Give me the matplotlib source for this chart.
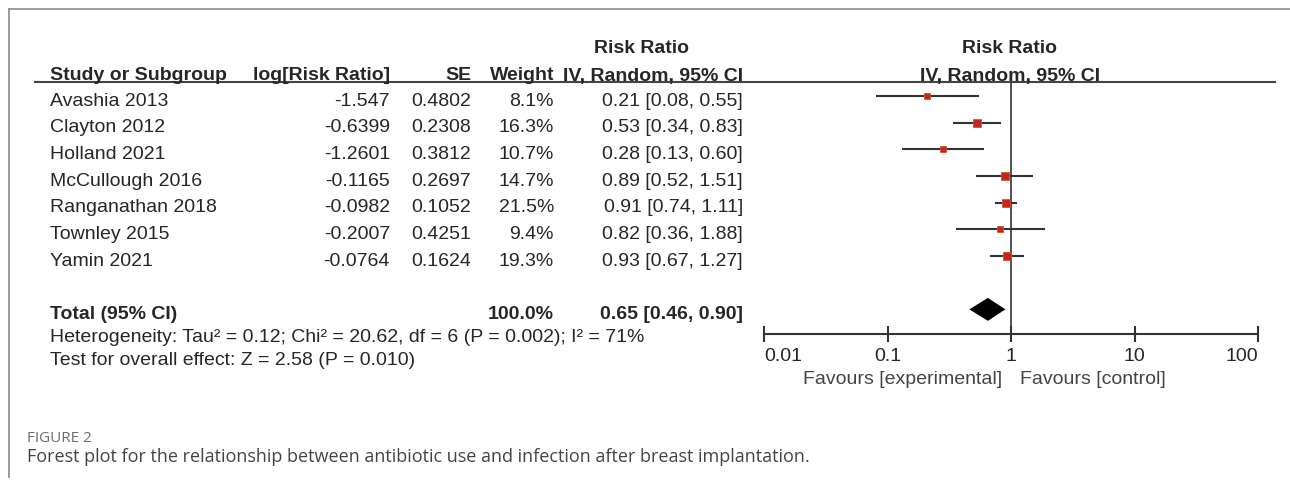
import matplotlib
matplotlib.use("Agg")
import matplotlib.pyplot as plt
from matplotlib.lines import Line2D
from matplotlib.transforms import blended_transform_factory
import numpy as np

# ---------------- data ----------------
studies = ["Avashia 2013", "Clayton 2012", "Holland 2021", "McCullough 2016",
           "Ranganathan 2018", "Townley 2015", "Yamin 2021"]
log_rr = [-1.547, -0.6399, -1.2601, -0.1165, -0.0982, -0.2007, -0.0764]
se = [0.4802, 0.2308, 0.3812, 0.2697, 0.1052, 0.4251, 0.1624]
weight = [8.1, 16.3, 10.7, 14.7, 21.5, 9.4, 19.3]
rr = [0.21, 0.53, 0.28, 0.89, 0.91, 0.82, 0.93]
ci_low = [0.08, 0.34, 0.13, 0.52, 0.74, 0.36, 0.67]
ci_high = [0.55, 0.83, 0.60, 1.51, 1.11, 1.88, 1.27]
total_rr = 0.65
total_low = 0.46
total_high = 0.90
total_weight = 100.0
x_ticks = [0.01, 0.1, 1, 10, 100]
x_tick_labels = ["0.01", "0.1", "1", "10", "100"]
heterogeneity = "Heterogeneity: Tau\u00b2 = 0.12; Chi\u00b2 = 20.62, df = 6 (P = 0.002); I\u00b2 = 71%"
overall = "Test for overall effect: Z = 2.58 (P = 0.010)"
fav_left = "Favours [experimental]"
fav_right = "Favours [control]"
fig_label = "FIGURE 2"
caption = "Forest plot for the relationship between antibiotic use and infection after breast implantation."

# ---------------- layout ----------------
W, H = 1290, 481
fig = plt.figure(figsize=(W / 100, H / 100), dpi=100)
fig.patch.set_facecolor("white")

def fx(x):
    return x / W

def fy(y):
    return 1 - y / H

TXT = "#262626"
FONT = "Liberation Sans"
FS = 14

# forest axes: x 764..1258 px, y 83..335 px
ax = fig.add_axes([fx(764), fy(335), fx(1258 - 764), (335 - 83) / H])
row_px0, row_step = 97.0, 26.67
ax.set_ylim((335 - row_px0) / row_step, (83 - row_px0) / row_step)
ax.set_xscale("log")
ax.set_xlim(x_ticks[0], x_ticks[-1])
for s in ["top", "left", "right"]:
    ax.spines[s].set_visible(False)
ax.spines["bottom"].set_color("#333333")
ax.spines["bottom"].set_linewidth(1.5)
ax.set_yticks([])
ax.minorticks_off()
ax.set_xticks(x_ticks)
ax.set_xticklabels(x_tick_labels, fontsize=14, family=FONT, color=TXT)
ax.tick_params(axis="x", direction="inout", length=11, width=1.5, color="#333333", pad=4)
labs = ax.get_xticklabels()
labs[0].set_ha("left")
labs[-1].set_ha("right")
ax.patch.set_alpha(0)

ax.axvline(1, color="#333333", lw=1.2, zorder=1)

rows = np.arange(len(studies))
for i in rows:
    ax.plot([ci_low[i], ci_high[i]], [i, i], color="#333333", lw=1.5, zorder=2,
            solid_capstyle="butt")
    side_pt = 1.9 * np.sqrt(weight[i]) * 0.72
    ax.plot([rr[i]], [i], marker="s", markersize=side_pt, markerfacecolor="#c4261d",
            markeredgecolor="#d6512b", markeredgewidth=0.6, zorder=3, linestyle="none")

total_row = len(studies) + 1
h = 0.43
ax.fill([total_low, total_rr, total_high, total_rr],
        [total_row, total_row - h, total_row, total_row + h],
        color="black", zorder=3, lw=0)

# text table, rows share the y scale of the forest axes
tr = blended_transform_factory(fig.transFigure, ax.transData)
dy = 0.15
for i in rows:
    y = i + dy
    fig.text(fx(50), y, studies[i], transform=tr, ha="left", va="center",
             fontsize=FS, family=FONT, color=TXT)
    fig.text(fx(390), y, str(log_rr[i]), transform=tr, ha="right", va="center",
             fontsize=FS, family=FONT, color=TXT)
    fig.text(fx(471), y, str(se[i]), transform=tr, ha="right", va="center",
             fontsize=FS, family=FONT, color=TXT)
    fig.text(fx(554), y, f"{weight[i]:.1f}%", transform=tr, ha="right", va="center",
             fontsize=FS, family=FONT, color=TXT)
    fig.text(fx(743), y, f"{rr[i]:.2f} [{ci_low[i]:.2f}, {ci_high[i]:.2f}]", transform=tr,
             ha="right", va="center", fontsize=FS, family=FONT, color=TXT)

y = total_row + dy
fig.text(fx(50), y, "Total (95% CI)", transform=tr, ha="left", va="center",
         fontsize=FS, family=FONT, color=TXT, weight="bold")
fig.text(fx(554), y, f"{total_weight:.1f}%", transform=tr, ha="right", va="center",
         fontsize=FS, family=FONT, color=TXT, weight="bold")
fig.text(fx(743), y, f"{total_rr:.2f} [{total_low:.2f}, {total_high:.2f}]", transform=tr,
         ha="right", va="center", fontsize=FS, family=FONT, color=TXT, weight="bold")

fig.text(fx(50), fy(338), heterogeneity, ha="left", va="center", fontsize=FS,
         family=FONT, color=TXT)
fig.text(fx(50), fy(361), overall, ha="left", va="center", fontsize=FS,
         family=FONT, color=TXT)

# headers
hdr = dict(fontsize=FS, family=FONT, color=TXT, weight="bold", va="center")
fig.text(fx(50), fy(76), "Study or Subgroup", ha="left", **hdr)
fig.text(fx(390), fy(76), "log[Risk Ratio]", ha="right", **hdr)
fig.text(fx(471), fy(76), "SE", ha="right", **hdr)
fig.text(fx(554), fy(76), "Weight", ha="right", **hdr)
fig.text(fx(743), fy(76), "IV, Random, 95% CI", ha="right", **hdr)
fig.text(fx(641), fy(49), "Risk Ratio", ha="center", **hdr)
fig.text(fx(1010), fy(49), "Risk Ratio", ha="center", **hdr)
fig.text(fx(1010), fy(76), "IV, Random, 95% CI", ha="center", **hdr)

fig.add_artist(Line2D([fx(35), fx(1275)], [fy(83), fy(83)], color="#444444", lw=1.5))

# favours labels
fig.text(fx(1002), fy(380), fav_left, ha="right", va="center", fontsize=FS,
         family=FONT, color="#444444")
fig.text(fx(1020), fy(380), fav_right, ha="left", va="center", fontsize=FS,
         family=FONT, color="#444444")

# frame
fig.add_artist(Line2D([fx(9), fx(1290)], [fy(10), fy(10)], color="#8a8a8a", lw=1.2))
fig.add_artist(Line2D([fx(9), fx(9)], [fy(10), fy(478)], color="#8a8a8a", lw=1.2))

# caption
fig.text(fx(27), fy(438), fig_label, ha="left", va="center", fontsize=11,
         family="Open Sans", color="#6b6b6b")
fig.text(fx(27), fy(457), caption, ha="left", va="center", fontsize=13,
         family="Open Sans", color="#444444")

fig.savefig("out.png", dpi=100, facecolor="white")
